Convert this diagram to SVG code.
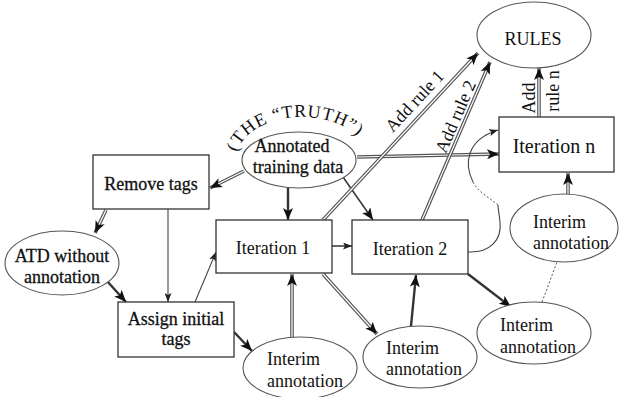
<svg xmlns="http://www.w3.org/2000/svg" width="619" height="397" viewBox="0 0 619 397" font-family="'Liberation Serif', Tinos, 'DejaVu Serif', serif">
<style>
  text { font-family: "Liberation Serif", Tinos, "DejaVu Serif", serif; font-size: 18px; fill: #111; }
  .hv { stroke: #111; stroke-width: 0.3; }
  .c { text-anchor: middle; }
  .box { fill: #fff; stroke: #333; stroke-width: 1.3; }
  .ell { fill: #fff; stroke: #555; stroke-width: 1.1; }
  .o { fill: none; stroke: #555; stroke-width: 3.6; }
  .i { fill: none; stroke: #fff; stroke-width: 1.2; }
  .dk { fill: none; stroke: #333; stroke-width: 2.4; }
  .md { fill: none; stroke: #333; stroke-width: 1.5; }
  .th { fill: none; stroke: #444; stroke-width: 1.1; }
  .dot { fill: none; stroke: #555; stroke-width: 1; stroke-dasharray: 2 2; }
</style>
<defs>
  <marker id="ah" viewBox="0 0 12 10" refX="12" refY="5" markerWidth="12" markerHeight="10" markerUnits="userSpaceOnUse" orient="auto">
    <path d="M0,0 L12,5 L0,10 L3,5 z" fill="#111"/>
  </marker>
  <marker id="ahs" viewBox="0 0 9 7" refX="9" refY="3.5" markerWidth="9" markerHeight="7" markerUnits="userSpaceOnUse" orient="auto">
    <path d="M0,0 L9,3.5 L0,7 L2,3.5 z" fill="#222"/>
  </marker>
  <path id="arc" d="M236,160 A66,43 0 0 1 368,160"/>
</defs>
<rect width="619" height="397" fill="#fff"/>

<g id="connectors">
  <path class="o" d="M244,171 L210,188"/><path class="i" d="M244,171 L210,188" marker-end="url(#ah)"/>
  <path class="dk" d="M288,188 L288,220" marker-end="url(#ah)"/>
  <path class="md" d="M343,177 L373,220" marker-end="url(#ah)"/>
  <path class="o" d="M357,157 L499,154"/><path class="i" d="M357,157 L499,154" marker-end="url(#ah)"/>
  <path class="o" d="M106,210 L95,233"/><path class="i" d="M106,210 L95,233" marker-end="url(#ah)"/>
  <path class="th" d="M168,209 L168,302" marker-end="url(#ahs)"/>
  <path class="dk" d="M107,281 L126,302" marker-end="url(#ah)"/>
  <path class="th" d="M195,302 L216,252" marker-end="url(#ahs)"/>
  <path class="dk" d="M234,332 L252,351" marker-end="url(#ah)"/>
  <path class="o" d="M292,337 L292,274"/><path class="i" d="M292,337 L292,274" marker-end="url(#ah)"/>
  <path class="md" d="M332,246 L352,246" marker-end="url(#ahs)"/>
  <path class="o" d="M323,274 L377,334"/><path class="i" d="M323,274 L377,334" marker-end="url(#ah)"/>
  <path class="dk" d="M411,326 L416,275" marker-end="url(#ah)"/>
  <path class="dk" d="M468,274 L511,307" marker-end="url(#ah)"/>
  <path class="dot" d="M542,302 L557,262"/>
  <path class="o" d="M568,194 L568,173"/><path class="i" d="M568,194 L568,173" marker-end="url(#ah)"/>
  <path class="o" d="M539,117 L539,68"/><path class="i" d="M539,117 L539,68" marker-end="url(#ah)"/>
  <path class="o" d="M323,220 L478,53"/><path class="i" d="M323,220 L478,53" marker-end="url(#ah)"/>
  <path class="o" d="M422,220 L490,62"/><path class="i" d="M422,220 L490,62" marker-end="url(#ah)"/>
  <path class="th" d="M468,252 C490,253 502,240 500,222 C499,213 498,208 498,205"/>
  <path class="dot" d="M498,205 C490,198 478,192 473,182"/>
  <path class="th" d="M473,182 C464,164 466,140 498,130" marker-end="url(#ahs)"/>
  <text transform="translate(419,105) rotate(-47)" class="c">Add rule 1</text>
  <text transform="translate(461,119) rotate(-66.6)" class="c">Add rule 2</text>
  <text transform="translate(535,98) rotate(-90)" class="c">Add</text>
  <text transform="translate(559,91) rotate(-90)" class="c">rule n</text>
</g>

<g id="rules">
  <ellipse class="ell" cx="534" cy="35" rx="57" ry="33"/>
  <text x="533" y="45" class="c">RULES</text>
</g>
<g id="annotated">
  <ellipse class="ell" cx="299" cy="160" rx="57" ry="28"/>
  <text x="292" y="152" class="c hv">Annotated</text>
  <text x="298" y="173" class="c hv">training data</text>
  <text><textPath href="#arc" startOffset="8" textLength="138" lengthAdjust="spacing">(THE “TRUTH”)</textPath></text>
</g>
<g id="remove-tags">
  <rect class="box" x="93" y="155" width="116" height="54"/>
  <text x="151" y="190" class="c hv">Remove tags</text>
</g>
<g id="atd">
  <ellipse class="ell" cx="62" cy="263" rx="57" ry="32"/>
  <text x="62" y="262" class="c hv">ATD without</text>
  <text x="62" y="283" class="c hv">annotation</text>
</g>
<g id="assign">
  <rect class="box" x="118" y="302" width="116" height="55"/>
  <text x="176" y="325" class="c hv">Assign initial</text>
  <text x="176" y="345" class="c hv">tags</text>
</g>
<g id="iteration1">
  <rect class="box" x="216" y="220" width="116" height="53"/>
  <text x="273" y="254" class="c">Iteration 1</text>
</g>
<g id="iteration2">
  <rect class="box" x="352" y="220" width="116" height="54"/>
  <text x="410" y="255" class="c">Iteration 2</text>
</g>
<g id="iterationn">
  <rect class="box" x="499" y="117" width="115" height="55"/>
  <text x="554" y="153" class="c" style="font-size:20px">Iteration n</text>
</g>
<g id="interim1">
  <ellipse class="ell" cx="300" cy="368" rx="57" ry="31"/>
  <text x="267" y="365">Interim</text>
  <text x="267" y="387">annotation</text>
</g>
<g id="interim2">
  <ellipse class="ell" cx="420" cy="357" rx="57" ry="31"/>
  <text x="386" y="354">Interim</text>
  <text x="386" y="375">annotation</text>
</g>
<g id="interim3">
  <ellipse class="ell" cx="534" cy="333" rx="57" ry="31"/>
  <text x="500" y="331">Interim</text>
  <text x="500" y="353">annotation</text>
</g>
<g id="interim4">
  <ellipse class="ell" cx="564" cy="228" rx="54" ry="34"/>
  <text x="533" y="228">Interim</text>
  <text x="533" y="249">annotation</text>
</g>
</svg>
